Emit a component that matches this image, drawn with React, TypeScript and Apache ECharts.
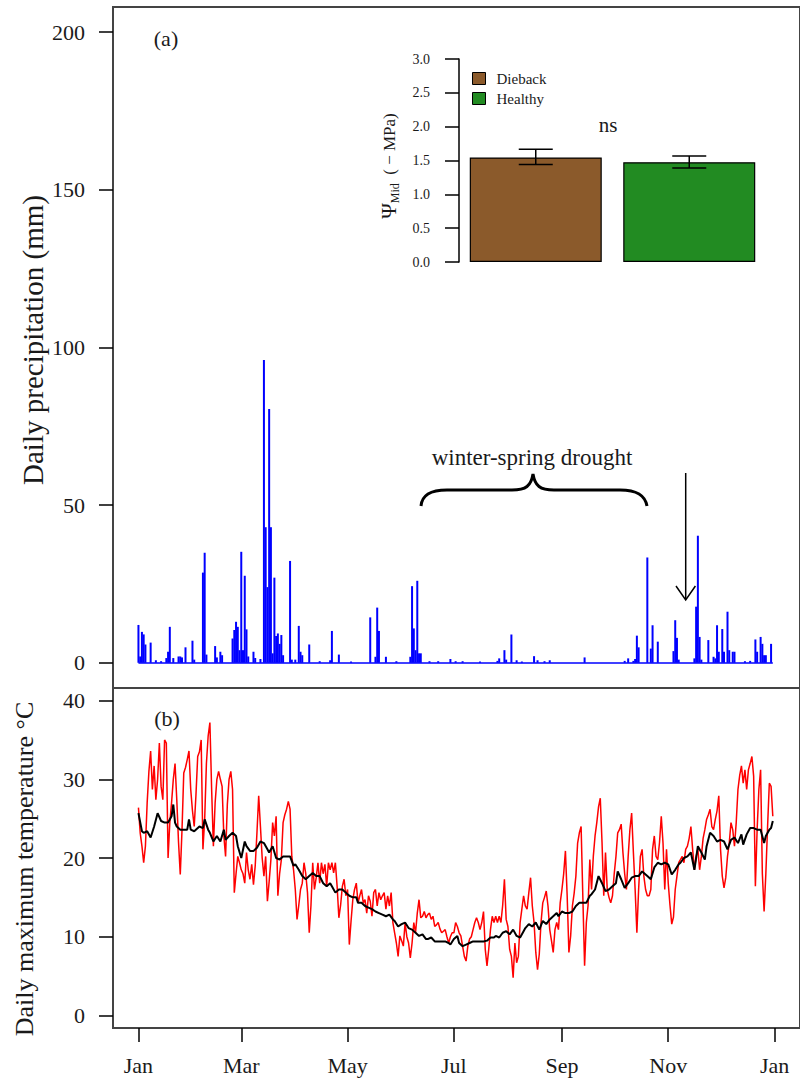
import React, { useEffect, useRef } from "react";
import * as echarts from "echarts";

// ---------------- data ----------------
// Panel (a): daily precipitation (mm), sparse: day-of-year index (0 = 1 Jan) and amount
const rainDays = [
  0, 1, 2, 3, 4, 7, 10, 13, 16, 17, 18, 20, 23, 24, 25, 27, 31, 32, 37, 38, 39, 44, 45, 47, 48,
  54, 55, 56, 57, 58, 59, 60, 61, 62, 63, 66, 67, 70, 72, 73, 74, 75, 76, 77, 78, 79, 80, 81, 82, 83,
  87, 88, 90, 92, 93, 94, 98, 104, 110, 111, 115, 122, 133, 136, 137, 138, 142, 148, 156, 157, 158,
  159, 160, 161, 162, 167, 172, 179, 182, 186, 196, 206, 207, 210, 211, 214, 217, 220, 227, 229, 233,
  236, 256, 279, 281, 284, 285, 286, 287, 292, 294, 295, 298, 307, 308, 309, 310, 319, 320, 321, 322,
  323, 327, 330, 331, 332, 333, 335, 336, 338, 339, 341, 342, 348, 351, 354, 355, 357, 358, 359, 360, 363,
];
const rainMm = [
  12, 2, 9.8, 9, 5.8, 6.4, 0.8, 0.5, 1.5, 3.5, 11.4, 1.5, 2, 2, 1.7, 4.9, 7, 1, 28.6, 34.9, 2.6, 5.3, 1.7, 3.5, 2.4,
  7.7, 10.4, 13, 11.4, 4, 35.2, 4, 27.6, 10.6, 2, 3.5, 1.5, 1.2, 96, 43, 24, 80.5, 43, 3, 27, 8.5, 9.3, 6, 8.8, 2.4,
  32.3, 1, 1, 11.7, 3.5, 2.4, 5.8, 0.5, 0.8, 10.1, 2.6, 0.4, 14.4, 1.9, 17.5, 10.1, 1.9, 0.5, 1.9, 24.3, 10.9,
  4, 26, 3, 3, 0.5, 0.5, 1.2, 0.5, 0.5, 0.4, 0.6, 1.4, 4, 1, 9, 0.8, 0.4, 2.1, 0.8, 0.5,
  0.8, 1.7, 0.6, 1.4, 0.6, 1.2, 8.6, 4.9, 33.4, 4.5, 11.9, 6.7, 3.7, 13.5, 7.9, 1, 1.4, 17.8, 40.3, 8.2,
  1, 7.2, 1.9, 1.4, 11.9, 3.5, 10.7, 3.5, 16.2, 4, 3.5, 3.5, 0.5, 0.6, 7.4, 3.5, 8.2, 6, 2.4, 2.4, 6,
];
const rainFirstDay = 0;
const rainLastDay = 364;

// Panel (b): daily maximum temperature (°C), one value per day from 1 Jan
const tmaxDaily = [
  26.4, 23.2, 21.5, 19.4, 21.5, 27, 31, 33.6, 28.7, 31.7,
  27.4, 30, 34.6, 29.1, 27.4, 35, 34.6, 20, 24.5, 27,
  30, 32, 27.4, 22, 17.9, 23.6, 30.8, 31.5, 32.5, 33.6,
  28.7, 26, 24, 28, 32.9, 33.5, 35, 21.1, 24.9, 32,
  35.5, 37.2, 28.7, 21.5, 27, 30, 31, 30, 29.1, 22.8,
  20.2, 26.8, 30, 31, 28.7, 15.6, 18, 20.2, 19.4, 18.5,
  18, 16.8, 20.7, 18.5, 17.3, 19.2, 16.6, 19, 23.2, 27.9,
  24, 20, 17.7, 20.2, 14.5, 17, 19.8, 24.5, 22.8, 25.3,
  15.2, 18, 19.8, 24.5, 25.5, 26.2, 27.2, 26.2, 20.2, 18.5,
  16, 12.2, 14, 16, 16.8, 19.4, 18, 15.6, 10.5, 14,
  19.4, 16, 17.5, 19.4, 16.8, 19.4, 18, 19.2, 16.4, 19.4,
  18.5, 19.4, 18.1, 19.4, 16.4, 12.4, 14, 16.4, 17.3, 15.2,
  16, 9, 12, 14.7, 16, 16.8, 14.3, 15.2, 16, 14.3,
  14.7, 13, 15.2, 14.5, 12.6, 15.6, 16, 13.9, 15.6, 14.7,
  15.2, 15.6, 13.5, 15.2, 13.9, 15.6, 11.8, 10.5, 9.2, 7.5,
  10.1, 9.5, 8.8, 11.8, 10, 9.2, 7.3, 9.2, 11.8, 10.5,
  13, 14.7, 12.4, 12.6, 13.2, 12.4, 12.8, 13, 12.2, 12.6,
  11.3, 11.5, 11.8, 11, 10.5, 10.7, 10.9, 10, 9.2, 10,
  10.5, 10.5, 11.8, 11.3, 10.5, 10.1, 8.8, 7.5, 6.9, 8.8,
  9.7, 10, 10.9, 11.8, 12.4, 11.8, 10.9, 11.8, 13.2, 8.4,
  6.3, 8.4, 10.9, 12.6, 11.8, 12.6, 11.8, 12.6, 11.8, 14,
  17.3, 12.2, 11.3, 8.4, 7.5, 4.8, 9.2, 6.7, 7.5, 11.8,
  13.5, 15.2, 13.9, 13.5, 15.6, 17.5, 13.9, 11.8, 8, 5.8,
  7.8, 11.8, 14.3, 15, 15.8, 13.9, 10.9, 9.5, 8, 10.9,
  11.8, 10.9, 14.3, 16, 18, 20.9, 15.2, 8, 10.1, 13.9,
  15.5, 17.7, 21.9, 23.2, 24, 15, 6.3, 11.8, 14, 19.8,
  16, 20.2, 22.8, 24.5, 26.5, 27.6, 22, 15.2, 20.7, 16,
  15, 14.3, 15.2, 18, 20.2, 23.2, 23.6, 24.3, 20.7, 18,
  16, 20.2, 23.6, 25.7, 20.7, 16, 10.5, 16, 20.2, 21.1,
  17.7, 16, 15.2, 15.2, 16, 21.1, 22.8, 20.2, 19.8, 22,
  25.3, 21.9, 16, 21.1, 16.8, 14, 11.6, 12.5, 16, 17.7,
  19.4, 19.8, 20.2, 19.4, 21.1, 21.5, 22.5, 24, 21.1, 18.5,
  20.2, 21.1, 18.5, 20.2, 22.5, 23.6, 24.9, 25.5, 26.2, 24,
  23.6, 24.9, 26, 27.9, 21.1, 17.7, 16.2, 17.5, 20.2, 21.9,
  24.5, 23.6, 21.5, 24.5, 28.7, 30.5, 31.7, 29.5, 31.2, 28.7,
  31.2, 32, 32.9, 30.4, 16.4, 23.6, 28.7, 31.2, 18, 13.2,
  18, 24, 29.5, 29.1, 25.3,
];

// Long-term mean daily maximum temperature (black line), read at these days
const meanDay = [
  0, 2, 3, 5, 7, 9, 11, 13, 15, 17, 19, 20, 21, 22, 24, 26, 28, 29, 30, 32, 35, 37, 38, 40, 41, 43, 45, 47,
  49, 50, 52, 54, 56, 57, 59, 61, 62, 64, 66, 68, 70, 72, 74, 75, 77, 79, 81, 83, 85, 87, 89, 90, 92, 94,
  96, 98, 100, 102, 104, 106, 108, 110, 111, 113, 115, 117, 119, 121, 123, 125, 126, 128, 130, 132, 134,
  136, 138, 140, 142, 144, 146, 147, 149, 151, 153, 155, 157, 159, 161, 163, 165, 166, 168, 170, 172, 174,
  176, 178, 179, 181, 183, 184, 186, 188, 190, 192, 194, 196, 198, 200, 202, 204, 205, 207, 209, 211, 213,
  215, 217, 219, 221, 222, 224, 226, 228, 230, 232, 234, 236, 238, 240, 241, 243, 245, 247, 249, 251, 253,
  255, 257, 259, 260, 262, 264, 266, 268, 270, 272, 274, 275, 277, 279, 281, 283, 285, 287, 289, 290, 292,
  294, 296, 298, 300, 302, 304, 306, 308, 310, 311, 313, 315, 317, 319, 321, 323, 325, 326, 328, 330, 332,
  334, 336, 338, 340, 342, 344, 346, 347, 349, 351, 353, 355, 357, 359, 360, 362, 363, 364,
];
const meanTmax = [
  25.7, 23.4, 23.2, 23.4, 22.6, 24, 25.7, 24.7, 24.5, 24.5, 25.3, 26.8, 24.5, 24, 23.6, 23.6, 23.6, 24.9, 23.6, 23.4, 24, 23.8, 24.9, 23.6, 23.2, 22.1, 22.8, 22.1,
  23.6, 22.3, 22.8, 23.2, 22.8, 21.5, 20, 22.1, 21.5, 20.9, 20.9, 21.3, 22.1, 21.9, 21.1, 20.7, 21.5, 20, 19.8, 20.2, 20.2, 20.2, 19, 19.2, 18.5, 17.7,
  17.3, 17.7, 18.1, 17.7, 17.7, 16.8, 16.4, 16.8, 16.4, 15.6, 16, 16, 15.6, 15.2, 15, 15, 14.3, 14.3, 13.9, 13.7, 13.5,
  13.2, 13, 12.8, 12.6, 12.8, 12.2, 12, 11.3, 11.6, 11.8, 11.1, 10.9, 10.5, 10.1, 10.3, 9.7, 9.7, 9.9, 9.4, 9.4, 9.4,
  9.4, 9.2, 9, 9.7, 10.1, 9.2, 8.8, 9, 9.2, 9.4, 9.4, 9.4, 9.4, 9.5, 9.9, 9.9, 10.1, 9.9, 10.5, 10.7, 10.3,
  10.9, 10.1, 9.9, 10.7, 11.1, 11.6, 11.3, 11.8, 10.9, 12, 11.6, 12.2, 12.6, 13, 12.6, 13.2, 13, 13, 13.2, 13.9, 14.3,
  14.3, 14.3, 15.2, 15.4, 16, 17.7, 16.8, 15.8, 16, 16.4, 16.8, 18.3, 17.3, 16.2, 16.8, 17.5, 17.7, 17.7, 18.3, 18.1, 17.7,
  17.3, 18.8, 19.4, 19.2, 19.4, 19.2, 17.9, 18.5, 19.2, 19.4, 20, 20.2, 20.7, 18.5, 21.5, 20.7, 19.8, 21.5, 23.2, 22.8, 22.1,
  22.3, 22.1, 21.1, 22.3, 22.6, 21.9, 23, 21.7, 23, 23.8, 23.8, 23.6, 23.6, 21.9, 22.8, 23.6, 23.8, 24.7,
];

// Month ticks for the shared x axis
const monthTickDays = [0, 59, 120, 181, 243, 304, 365];
const monthLabels = ["Jan", "Mar", "May", "Jul", "Sep", "Nov", "Jan"];
const precipTicks = [0, 50, 100, 150, 200];
const tempTicks = [0, 10, 20, 30, 40];

// Inset: midday water potential
const insetGroups = ["Dieback", "Healthy"];
const insetMean = [1.545, 1.475];
const insetLow = [1.44, 1.39];
const insetHigh = [1.665, 1.565];
const insetColors = ["#8B5A2B", "#228B22"];

const FONT = "'Liberation Serif', 'Times New Roman', Times, serif";

const bracePath =
  "M421,506 C422,495 430,490 447,490 L512,490 C526,490 531,486 533,474 C535,486 540,490 554,490 L620,490 C637,490 645,495 647,506";

echarts.graphic.registerShape("brace", echarts.graphic.extendPath(bracePath, {}) as any);

function txt(x: number, y: number, text: string, size: number, extra: any = {}) {
  return {
    type: "text",
    x,
    y,
    ...extra,
    style: {
      text,
      font: `${size}px ${FONT}`,
      fill: "#1a1a1a",
      align: "center",
      verticalAlign: "middle",
      textAlign: "center",
      textVerticalAlign: "middle",
    },
  };
}

export default function App() {
  const ref = useRef<HTMLDivElement>(null);

  useEffect(() => {
    document.body.style.margin = "0";
    if (!ref.current) return;
    const chart = echarts.init(ref.current, undefined, { renderer: "svg" });

    const tickStyle = { color: "#000", width: 1.5 };
    const labelBase = { fontFamily: FONT, color: "#1a1a1a" };

    const option: any = {
      animation: false,
      backgroundColor: "#fff",
      grid: [
        { left: 113, top: 7, width: 693.3, height: 681, show: true, borderColor: "#444", borderWidth: 2, backgroundColor: "transparent" },
        { left: 113, top: 688, width: 693.3, height: 340, show: true, borderColor: "#444", borderWidth: 2, backgroundColor: "transparent" },
        { left: 459, top: 59, width: 307, height: 203, show: false },
      ],
      xAxis: [
        { gridIndex: 0, type: "value", min: -14.6, max: 379.6, show: false, axisLine: { onZero: false } },
        {
          gridIndex: 1,
          type: "value",
          min: -14.6,
          max: 379.6,
          axisLine: { show: false, onZero: false },
          splitLine: { show: false },
          axisTick: { show: true, length: 14, lineStyle: tickStyle, customValues: monthTickDays },
          axisLabel: {
            ...labelBase,
            fontSize: 22,
            margin: 26,
            customValues: monthTickDays,
            formatter: (v: number) => monthLabels[monthTickDays.indexOf(v)] ?? "",
          },
        },
        { gridIndex: 2, type: "category", data: insetGroups, show: false },
      ],
      yAxis: [
        {
          gridIndex: 0,
          type: "value",
          min: -8,
          max: 208,
          axisLine: { show: false, onZero: false },
          splitLine: { show: false },
          axisTick: { show: true, length: 14, lineStyle: tickStyle, customValues: precipTicks },
          axisLabel: { ...labelBase, fontSize: 22, margin: 28, customValues: precipTicks },
        },
        {
          gridIndex: 1,
          type: "value",
          min: -1.6,
          max: 41.6,
          axisLine: { show: false, onZero: false },
          splitLine: { show: false },
          axisTick: { show: true, length: 14, lineStyle: tickStyle, customValues: tempTicks },
          axisLabel: { ...labelBase, fontSize: 22, margin: 28, customValues: tempTicks },
        },
        {
          gridIndex: 2,
          type: "value",
          min: 0,
          max: 3,
          interval: 0.5,
          axisLine: { show: true, onZero: false, lineStyle: { color: "#000", width: 1.5 } },
          splitLine: { show: false },
          axisTick: { show: true, length: 14, lineStyle: tickStyle },
          axisLabel: { ...labelBase, fontSize: 14, margin: 29, formatter: (v: number) => v.toFixed(1) },
        },
      ],
      legend: {
        data: insetGroups,
        orient: "vertical",
        left: 472,
        top: 71,
        padding: 0,
        icon: "rect",
        itemWidth: 13,
        itemHeight: 12,
        itemGap: 5,
        itemStyle: { borderColor: "#000", borderWidth: 1 },
        textStyle: { fontFamily: FONT, fontSize: 15, color: "#1a1a1a", padding: [0, 0, 0, 6] },
        selectedMode: false,
      },
      series: [
        {
          name: "Daily precipitation",
          type: "bar",
          xAxisIndex: 0,
          yAxisIndex: 0,
          barWidth: 2,
          itemStyle: { color: "#0000FF" },
          data: rainDays.map((d, i) => [d, rainMm[i]]),
          markLine: {
            silent: true,
            symbol: ["none", "none"],
            label: { show: false },
            lineStyle: { color: "#0000FF", width: 1.5, type: "solid" },
            data: [[{ coord: [rainFirstDay, 0] }, { coord: [rainLastDay, 0] }]],
          },
        },
        {
          name: "Tmax",
          type: "line",
          xAxisIndex: 1,
          yAxisIndex: 1,
          showSymbol: false,
          symbol: "none",
          lineStyle: { color: "#FF0000", width: 1.5 },
          data: tmaxDaily.map((v, i) => [i, v]),
        },
        {
          name: "Mean Tmax",
          type: "line",
          xAxisIndex: 1,
          yAxisIndex: 1,
          showSymbol: false,
          symbol: "none",
          lineStyle: { color: "#000", width: 2 },
          data: meanDay.map((d, i) => [d, meanTmax[i]]),
        },
        {
          name: "Dieback",
          type: "bar",
          xAxisIndex: 2,
          yAxisIndex: 2,
          barWidth: 132,
          barGap: "-100%",
          itemStyle: { color: insetColors[0], borderColor: "#000", borderWidth: 1.2 },
          data: [insetMean[0], "-"],
        },
        {
          name: "Healthy",
          type: "bar",
          xAxisIndex: 2,
          yAxisIndex: 2,
          barWidth: 132,
          barGap: "-100%",
          itemStyle: { color: insetColors[1], borderColor: "#000", borderWidth: 1.2 },
          data: ["-", insetMean[1]],
        },
        {
          name: "SE",
          type: "custom",
          xAxisIndex: 2,
          yAxisIndex: 2,
          data: insetGroups.map((_, i) => [i, insetLow[i], insetHigh[i]]),
          renderItem: (params: any, api: any) => {
            const lo = api.coord([api.value(0), api.value(1)]);
            const hi = api.coord([api.value(0), api.value(2)]);
            const half = 17;
            const st = { stroke: "#000", lineWidth: 1.5 };
            return {
              type: "group",
              children: [
                { type: "line", shape: { x1: lo[0], y1: lo[1], x2: hi[0], y2: hi[1] }, style: st },
                { type: "line", shape: { x1: lo[0] - half, y1: lo[1], x2: lo[0] + half, y2: lo[1] }, style: st },
                { type: "line", shape: { x1: hi[0] - half, y1: hi[1], x2: hi[0] + half, y2: hi[1] }, style: st },
              ],
            };
          },
          z: 5,
        },
      ],
      graphic: [
        txt(33, 340, "Daily precipitation (mm)", 29, { rotation: Math.PI / 2 }),
        txt(24, 869, "Daily maximum temperature \u00B0C", 26, { rotation: Math.PI / 2 }),
        txt(166, 38, "(a)", 22),
        txt(167, 718, "(b)", 22),
        txt(532, 457, "winter-spring drought", 23),
        txt(608, 125, "ns", 21),
        {
          type: "brace",
          x: 0,
          y: 0,
          style: { fill: "none", stroke: "#000", lineWidth: 3 },
        },
        {
          type: "line",
          shape: { x1: 685.7, y1: 473, x2: 685.7, y2: 599 },
          style: { stroke: "#000", lineWidth: 1.5 },
        },
        {
          type: "polyline",
          shape: { points: [[676, 586], [685.7, 600], [695.4, 586]] },
          style: { stroke: "#000", lineWidth: 1.5, fill: "none" },
        },
        {
          type: "text",
          x: 389,
          y: 166,
          rotation: Math.PI / 2,
          style: {
            text: "{psi|\u03A8}{sub|Mid}{rest|  ( \u2212 MPa)}",
            align: "center",
            verticalAlign: "middle",
            textAlign: "center",
            textVerticalAlign: "middle",
            rich: {
              psi: { fontFamily: FONT, fontSize: 21, fill: "#1a1a1a", color: "#1a1a1a", lineHeight: 24, verticalAlign: "middle" },
              sub: { fontFamily: FONT, fontSize: 12, fill: "#1a1a1a", color: "#1a1a1a", lineHeight: 24, verticalAlign: "bottom" },
              rest: { fontFamily: FONT, fontSize: 17, fill: "#1a1a1a", color: "#1a1a1a", lineHeight: 24, verticalAlign: "middle" },
            },
          },
        },
      ],
    };

    chart.setOption(option);
    return () => chart.dispose();
  }, []);

  return <div ref={ref} style={{ width: 800, height: 1086 }} />;
}
